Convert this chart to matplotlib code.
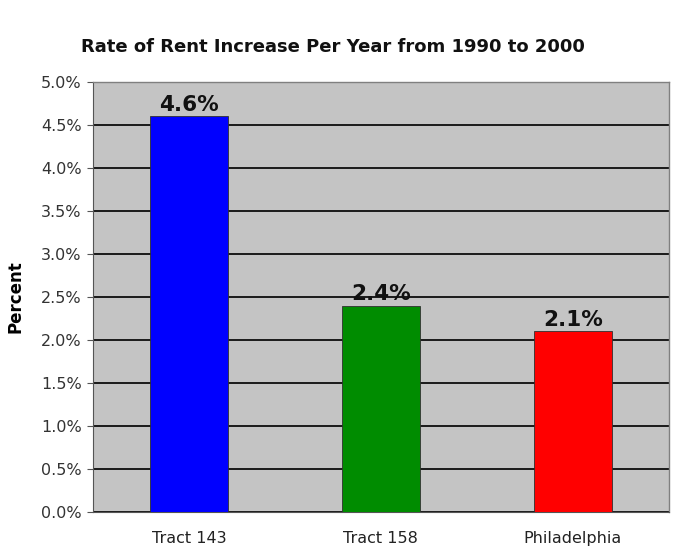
import matplotlib
matplotlib.use("Agg")
import matplotlib.pyplot as plt
from matplotlib.ticker import FuncFormatter

categories = ["Tract 143", "Tract 158", "Philadelphia"]
rates = [4.6, 2.4, 2.1]
bar_colors = ["#0000ff", "#008c00", "#ff0000"]
y_ticks = [0.0, 0.5, 1.0, 1.5, 2.0, 2.5, 3.0, 3.5, 4.0, 4.5, 5.0]

plt.rcParams["font.family"] = ["DejaVu Sans"]

fig = plt.figure(figsize=(6.73, 5.54), dpi=100)
ax = fig.add_axes([0.138, 0.0758, 0.856, 0.776])
ax.set_facecolor("#c4c4c4")

x = list(range(len(categories)))
ax.bar(x, rates, width=0.405, color=bar_colors, edgecolor="#303030",
       linewidth=0.6, zorder=3)

for xi, v in zip(x, rates):
    ax.text(xi, v + 0.02, f"{v:.1f}%", ha="center", va="bottom",
            fontsize=15.5, fontweight="bold", color="#111111", zorder=4)

ax.set_xlim(-0.5, len(categories) - 0.5)
ax.set_ylim(0, 5.0)
ax.set_yticks(y_ticks)
ax.yaxis.set_major_formatter(FuncFormatter(lambda v, _: f"{v:.1f}%"))
ax.set_xticks(x)
ax.set_xticklabels(categories)

ax.yaxis.grid(True, color="#1a1a1a", linewidth=1.4, zorder=1)
ax.set_axisbelow(True)

ax.tick_params(axis="y", length=4, color="#555555", labelsize=11.5,
               labelcolor="#333333", pad=4)
ax.tick_params(axis="x", length=0, labelsize=11.5, labelcolor="#222222", pad=14)

for side in ["top", "right"]:
    ax.spines[side].set_color("#808080")
    ax.spines[side].set_linewidth(1.0)
ax.spines["left"].set_color("#555555")
ax.spines["bottom"].set_color("#555555")

ax.set_ylabel("Percent", fontsize=12, fontweight="bold", labelpad=12)

fig.text(0.494, 0.915, "Rate of Rent Increase Per Year from 1990 to 2000",
         ha="center", va="center", fontsize=13, fontweight="bold",
         color="#111111")

fig.savefig("out.png", dpi=100, facecolor="white")
